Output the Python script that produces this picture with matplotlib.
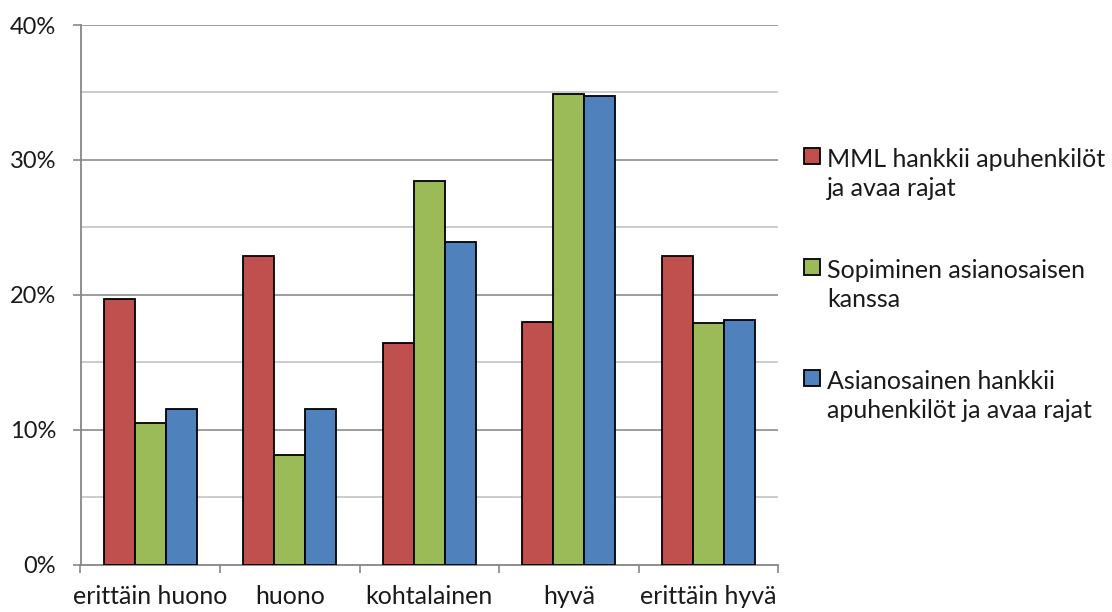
import matplotlib
matplotlib.use("Agg")
import matplotlib.pyplot as plt
import numpy as np
from matplotlib.patches import Rectangle

categories = ["erittäin huono", "huono", "kohtalainen", "hyvä", "erittäin hyvä"]
series_names = [
    "MML hankkii apuhenkilöt\nja avaa rajat",
    "Sopiminen asianosaisen\nkanssa",
    "Asianosainen hankkii\napuhenkilöt ja avaa rajat",
]
mml_values = [19.7, 22.9, 16.4, 18.0, 22.9]
sopiminen_values = [10.5, 8.1, 28.4, 34.9, 17.9]
asianosainen_values = [11.5, 11.5, 23.9, 34.7, 18.1]
y_ticks = [0, 10, 20, 30, 40]
y_tick_labels = ["0%", "10%", "20%", "30%", "40%"]

colors = ["#C0504D", "#9BBB59", "#4F81BD"]
text_color = "#1a1a1a"
axis_color = "#868686"

plt.rcParams["font.family"] = ["Lato", "DejaVu Sans"]

W, H = 1112, 612
fig = plt.figure(figsize=(W / 100, H / 100), dpi=100)
ax = fig.add_axes([80.5 / W, 1 - 564.5 / H, 697.5 / W, 539.5 / H])

x = np.arange(len(categories))
bar_w = 1 / 4.5
all_series = [mml_values, sopiminen_values, asianosainen_values]
for i, (vals, col) in enumerate(zip(all_series, colors)):
    ax.bar(x + (i - 1) * bar_w, vals, width=bar_w, color=col,
           edgecolor="black", linewidth=1.3, zorder=3)

ax.set_xlim(-0.5, len(categories) - 0.5)
ax.set_ylim(0, 40)

# gridlines: labelled steps darker, intermediate steps lighter
for v in np.arange(5, 41, 5):
    major = v % 10 == 0
    ax.axhline(v, color="#8c8c8c" if major else "#c4c4c4", lw=1.2, zorder=1)

ax.set_yticks(y_ticks)
ax.set_yticklabels(y_tick_labels, fontsize=17, color=text_color)
ax.tick_params(axis="y", length=5.5, width=1.2, color=axis_color, pad=12)

ax.set_xticks(x)
ax.set_xticklabels(categories, fontsize=18, color=text_color)
ax.tick_params(axis="x", length=0, pad=15)
# category boundary ticks
ax.set_xticks(np.arange(-0.5, len(categories), 1), minor=True)
ax.tick_params(axis="x", which="minor", length=6, width=1.2, color=axis_color)

for s in ["top", "right"]:
    ax.spines[s].set_visible(False)
for s in ["left", "bottom"]:
    ax.spines[s].set_color(axis_color)
    ax.spines[s].set_linewidth(1.3)

# legend: square swatch beside the first line of each two-line label
line_px = 31
for i, (name, col) in enumerate(zip(series_names, colors)):
    cy = 156 + 111 * i
    fig.patches.append(Rectangle((804 / W, 1 - (cy + 8) / H), 16 / W, 16 / H,
                                 transform=fig.transFigure, facecolor=col,
                                 edgecolor="black", linewidth=1.3))
    # baseline alignment of multi-line text refers to the last line
    fig.text(827 / W, 1 - (cy + 9 + line_px) / H, name, fontsize=18,
             color=text_color, ha="left", va="baseline", linespacing=1.3)

fig.savefig("out.png", dpi=100)
